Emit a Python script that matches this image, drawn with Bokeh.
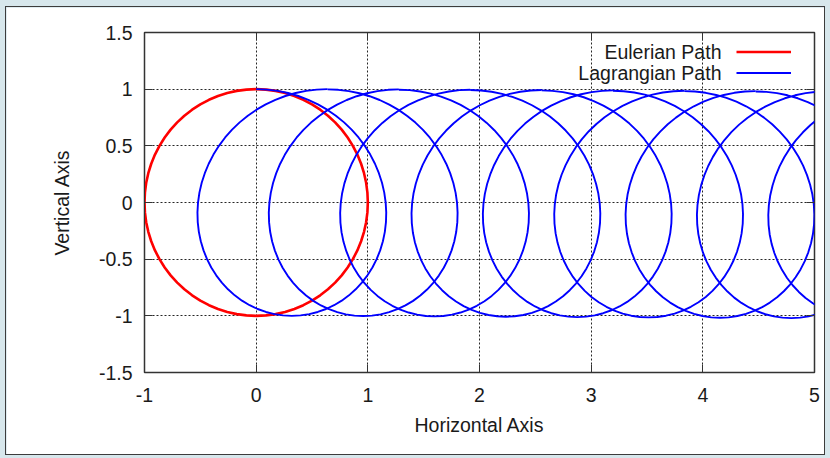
from bokeh.plotting import figure
from bokeh.models import (Range1d, FixedTicker, LinearAxis, Legend, LegendItem,
                          Label, GlobalInlineStyleSheet)
from bokeh.embed import file_html
from bokeh.resources import INLINE

# ---------------- data ----------------
x_ticks = [-1, 0, 1, 2, 3, 4, 5]
x_tick_labels = ["-1", "0", "1", "2", "3", "4", "5"]
y_ticks = [-1.5, -1, -0.5, 0, 0.5, 1, 1.5]
y_tick_labels = ["-1.5", "-1", "-0.5", "0", "0.5", "1", "1.5"]

series_names = ["Eulerian Path", "Lagrangian Path"]

# Eulerian path: circle of radius 1 around the origin
euler_x = [0.0, 0.0872, 0.1736, 0.2588, 0.3420, 0.4226, 0.5, 0.5736, 0.6428, 0.7071,
           0.7660, 0.8192, 0.8660, 0.9063, 0.9397, 0.9659, 0.9848, 0.9962, 1.0,
           0.9962, 0.9848, 0.9659, 0.9397, 0.9063, 0.8660, 0.8192, 0.7660, 0.7071,
           0.6428, 0.5736, 0.5, 0.4226, 0.3420, 0.2588, 0.1736, 0.0872, 0.0,
           -0.0872, -0.1736, -0.2588, -0.3420, -0.4226, -0.5, -0.5736, -0.6428, -0.7071,
           -0.7660, -0.8192, -0.8660, -0.9063, -0.9397, -0.9659, -0.9848, -0.9962, -1.0,
           -0.9962, -0.9848, -0.9659, -0.9397, -0.9063, -0.8660, -0.8192, -0.7660, -0.7071,
           -0.6428, -0.5736, -0.5, -0.4226, -0.3420, -0.2588, -0.1736, -0.0872, 0.0]
euler_y = [1.0, 0.9962, 0.9848, 0.9659, 0.9397, 0.9063, 0.8660, 0.8192, 0.7660, 0.7071,
           0.6428, 0.5736, 0.5, 0.4226, 0.3420, 0.2588, 0.1736, 0.0872, 0.0,
           -0.0872, -0.1736, -0.2588, -0.3420, -0.4226, -0.5, -0.5736, -0.6428, -0.7071,
           -0.7660, -0.8192, -0.8660, -0.9063, -0.9397, -0.9659, -0.9848, -0.9962, -1.0,
           -0.9962, -0.9848, -0.9659, -0.9397, -0.9063, -0.8660, -0.8192, -0.7660, -0.7071,
           -0.6428, -0.5736, -0.5, -0.4226, -0.3420, -0.2588, -0.1736, -0.0872, 0.0,
           0.0872, 0.1736, 0.2588, 0.3420, 0.4226, 0.5, 0.5736, 0.6428, 0.7071,
           0.7660, 0.8192, 0.8660, 0.9063, 0.9397, 0.9659, 0.9848, 0.9962, 1.0]

# Lagrangian path: one orbit (first blue loop, from its top to the next top) ...
lag_loop_x = [0.0, 0.0961, 0.1914, 0.2854, 0.3775, 0.4670, 0.5533, 0.6357, 0.7138, 0.7870,
              0.8548, 0.9168, 0.9725, 1.0217, 1.0640, 1.0990, 1.1268, 1.1471, 1.1598,
              1.1648, 1.1623, 1.1523, 1.1350, 1.1104, 1.0790, 1.0411, 0.9968, 0.9467,
              0.8913, 0.8310, 0.7663, 0.6977, 0.6260, 0.5517, 0.4754, 0.3978, 0.3195,
              0.2412, 0.1637, 0.0873, 0.0130, -0.0587, -0.1272, -0.1920, -0.2523, -0.3077,
              -0.3577, -0.4021, -0.4400, -0.4714, -0.4959, -0.5133, -0.5233, -0.5258, -0.5207,
              -0.5081, -0.4878, -0.4600, -0.4249, -0.3827, -0.3335, -0.2778, -0.2157, -0.1480,
              -0.0748, 0.0033, 0.0858, 0.1720, 0.2615, 0.3536, 0.4477, 0.5429, 0.6390]
lag_loop_y = [1.0, 0.9962, 0.9848, 0.9659, 0.9397, 0.9063, 0.8660, 0.8192, 0.7660, 0.7071,
              0.6428, 0.5736, 0.5, 0.4226, 0.3420, 0.2588, 0.1736, 0.0872, 0.0,
              -0.0872, -0.1736, -0.2588, -0.3420, -0.4226, -0.5, -0.5736, -0.6428, -0.7071,
              -0.7660, -0.8192, -0.8660, -0.9063, -0.9397, -0.9659, -0.9848, -0.9962, -1.0,
              -0.9962, -0.9848, -0.9659, -0.9397, -0.9063, -0.8660, -0.8192, -0.7660, -0.7071,
              -0.6428, -0.5736, -0.5, -0.4226, -0.3420, -0.2588, -0.1736, -0.0872, 0.0,
              0.0872, 0.1736, 0.2588, 0.3420, 0.4226, 0.5, 0.5736, 0.6428, 0.7071,
              0.7660, 0.8192, 0.8660, 0.9063, 0.9397, 0.9659, 0.9848, 0.9962, 1.0]
# ... and where each successive orbit starts (x of its top, slight sinking in y)
lag_loop_dx = [0.0, 0.639, 1.278, 1.917, 2.556, 3.195, 3.834, 4.473, 5.112]
lag_loop_dy = [0.0, -0.002, -0.005, -0.008, -0.011, -0.014, -0.017, -0.020, -0.023]

lag_xs = [[x + dx for x in lag_loop_x] for dx in lag_loop_dx]
lag_ys = [[y + dy for y in lag_loop_y] for dy in lag_loop_dy]

# ---------------- styling ----------------
FONT = "Liberation Sans"
TXT = "#1a1a1a"
FRAME = "#333333"

p = figure(width=820, height=449,
           x_range=Range1d(-1, 5), y_range=Range1d(-1.5, 1.5),
           output_backend="svg", toolbar_location=None,
           min_border_left=138, min_border_right=12,
           min_border_top=25, min_border_bottom=84)
p.background_fill_color = "white"
p.border_fill_color = "white"
p.outline_line_color = FRAME
p.outline_line_width = 1.5

p.xaxis.ticker = FixedTicker(ticks=x_ticks)
p.yaxis.ticker = FixedTicker(ticks=y_ticks)
p.xaxis.major_label_overrides = dict(zip(x_ticks, x_tick_labels))
p.yaxis.major_label_overrides = dict(zip(y_ticks, y_tick_labels))
p.xaxis.axis_label = "Horizontal Axis"
p.yaxis.axis_label = "Vertical Axis"

for ax in (p.xaxis[0], p.yaxis[0]):
    ax.major_tick_in = 8
    ax.major_tick_out = 0
    ax.minor_tick_line_color = None
    ax.axis_line_color = FRAME
    ax.major_tick_line_color = FRAME
    ax.major_label_text_font = FONT
    ax.major_label_text_font_size = "19.5px"
    ax.major_label_text_color = TXT
    ax.axis_label_text_font = FONT
    ax.axis_label_text_font_size = "19.5px"
    ax.axis_label_text_font_style = "normal"
    ax.axis_label_text_color = TXT
p.xaxis.major_label_standoff = 15
p.yaxis.major_label_standoff = 12
p.xaxis.axis_label_standoff = 9
p.yaxis.axis_label_standoff = 23

# mirrored tick marks on top and right
top_ax = LinearAxis(ticker=FixedTicker(ticks=x_ticks),
                    major_label_overrides={t: "" for t in x_ticks})
right_ax = LinearAxis(ticker=FixedTicker(ticks=y_ticks),
                      major_label_overrides={t: "" for t in y_ticks})
for ax in (top_ax, right_ax):
    ax.major_tick_in = 8
    ax.major_tick_out = 0
    ax.minor_tick_line_color = None
    ax.axis_line_color = None
    ax.major_tick_line_color = FRAME
    ax.major_label_text_font_size = "0px"
    ax.major_label_standoff = 0
p.add_layout(top_ax, "above")
p.add_layout(right_ax, "right")

p.grid.grid_line_color = "black"
p.grid.grid_line_dash = "2 2"
p.grid.grid_line_width = 1
p.grid.grid_line_alpha = 0.85

r_e = p.line(euler_x, euler_y, line_color="#ff0000", line_width=2.6)
r_l = p.multi_line(xs=lag_xs, ys=lag_ys, line_color="#0000ff", line_width=1.9)

legend = Legend(items=[LegendItem(label=" ", renderers=[r_e]),
                       LegendItem(label=" ", renderers=[r_l])],
                location=(592, 289), padding=0, margin=0, spacing=0,
                glyph_width=55, glyph_height=21, label_height=21,
                label_width=0, label_standoff=0,
                border_line_color=None, background_fill_alpha=0,
                label_text_font_size="19px")
p.add_layout(legend)

for name, yy in zip(series_names, (1.332, 1.147)):
    p.add_layout(Label(x=4.167, y=yy, text=name, text_align="right",
                       text_baseline="middle", text_font=FONT,
                       text_font_size="19.5px", text_color=TXT))

p.stylesheets = [GlobalInlineStyleSheet(css="html, body { background-color: #d7e7ec; }")]
p.styles = {"border": "1px solid #3c3c3c", "margin-left": "5px", "margin-top": "6px"}

open("out.html", "w").write(file_html(p, INLINE))
